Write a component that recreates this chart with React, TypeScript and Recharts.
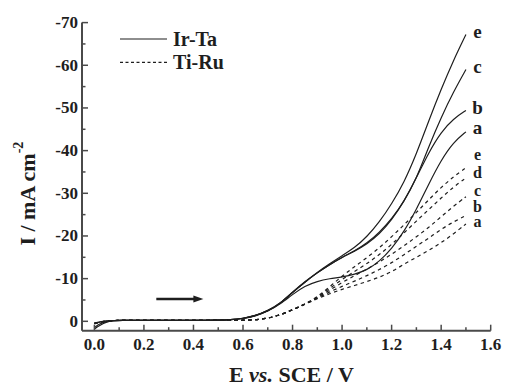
import React from 'react';
import { LineChart, Line, XAxis, YAxis, Legend, ReferenceDot, ReferenceLine } from 'recharts';

// Potential E vs. SCE / V
const potential = [0, 0.02, 0.05, 0.08, 0.1, 0.2, 0.3, 0.4, 0.5, 0.55, 0.6, 0.65, 0.7, 0.75, 0.8, 0.85, 0.9, 0.95, 1.0, 1.05, 1.1, 1.15, 1.2, 1.25, 1.3, 1.35, 1.4, 1.45, 1.5];

// Ir-Ta (solid) current densities, mA cm-2
const irTaA = [1.8, 1.0, 0.1, -0.2, -0.2, -0.2, -0.2, -0.2, -0.25, -0.35, -0.6, -1.2, -2.3, -4.0, -6.3, -8.3, -9.4, -10.0, -10.4, -11.0, -12.0, -14.0, -17.0, -21.0, -26.2, -32.2, -37.8, -42.0, -44.4];
const irTaB = [1.5, 0.6, 0.0, -0.2, -0.2, -0.2, -0.2, -0.2, -0.25, -0.4, -0.65, -1.3, -2.4, -4.1, -6.8, -9.2, -11.4, -13.3, -15.0, -16.4, -18.1, -20.4, -23.7, -28.1, -33.6, -39.6, -44.4, -47.5, -49.4];
const irTaC = [0.4, 0.1, -0.1, -0.2, -0.2, -0.2, -0.2, -0.2, -0.25, -0.4, -0.65, -1.3, -2.4, -4.1, -6.8, -9.2, -11.4, -13.3, -15.0, -16.5, -18.3, -20.8, -24.0, -28.0, -33.4, -41.0, -47.8, -53.8, -59.0];
const irTaE = [0.6, 0.2, -0.1, -0.2, -0.2, -0.2, -0.2, -0.2, -0.25, -0.4, -0.65, -1.3, -2.5, -4.2, -6.9, -9.3, -11.5, -13.5, -15.4, -17.2, -19.8, -23.2, -27.5, -32.5, -39.2, -47.0, -54.4, -61.2, -67.2];

// Ti-Ru (dashed) current densities, mA cm-2
const tiRuA = [0.5, 0.2, -0.1, -0.2, -0.2, -0.2, -0.2, -0.2, -0.2, -0.2, -0.25, -0.35, -0.7, -1.5, -2.7, -4.0, -5.3, -6.5, -7.5, -8.4, -9.3, -10.3, -11.6, -13.4, -15.0, -16.6, -18.4, -20.5, -22.8];
const tiRuB = [0.5, 0.2, -0.1, -0.2, -0.2, -0.2, -0.2, -0.2, -0.2, -0.2, -0.25, -0.35, -0.7, -1.5, -2.7, -4.0, -5.4, -6.9, -8.2, -9.4, -10.7, -12.1, -13.7, -15.6, -17.6, -19.5, -21.6, -23.3, -24.8];
const tiRuC = [0.5, 0.2, -0.1, -0.2, -0.2, -0.2, -0.2, -0.2, -0.2, -0.2, -0.25, -0.35, -0.7, -1.5, -2.7, -4.0, -5.5, -7.3, -9.1, -10.7, -12.2, -13.9, -15.7, -17.7, -19.8, -22.0, -24.5, -27.0, -29.2];
const tiRuD = [0.5, 0.2, -0.1, -0.2, -0.2, -0.2, -0.2, -0.2, -0.2, -0.2, -0.25, -0.35, -0.7, -1.5, -2.7, -4.0, -5.6, -7.7, -9.8, -11.7, -13.5, -15.6, -18.0, -20.7, -23.5, -26.2, -28.9, -31.5, -33.6];
const tiRuE = [0.5, 0.2, -0.1, -0.2, -0.2, -0.2, -0.2, -0.2, -0.2, -0.2, -0.25, -0.35, -0.7, -1.5, -2.7, -4.0, -5.7, -8.1, -10.6, -12.8, -14.9, -17.2, -19.8, -22.6, -25.5, -28.5, -31.4, -33.9, -36.0];

const xMajorTicks = [0, 0.2, 0.4, 0.6, 0.8, 1.0, 1.2, 1.4, 1.6];
const xMinorTicks = [0.1, 0.3, 0.5, 0.7, 0.9, 1.1, 1.3, 1.5];
const yMajorTicks = [-70, -60, -50, -40, -30, -20, -10, 0];
const yMinorTicks = [-65, -55, -45, -35, -25, -15, -5];

const legendItems = ['Ir-Ta', 'Ti-Ru'];

const solidLabels = ['e', 'c', 'b', 'a'];
const solidLabelValues = [-66.3, -58.1, -48.6, -43.9];
const dashedLabels = ['e', 'd', 'c', 'b', 'a'];
const dashedLabelValues = [-37.8, -33.6, -29.4, -25.7, -22.0];
const labelPotential = 1.547;

const arrowStart = 0.25;
const arrowEnd = 0.44;
const arrowLevel = -5.2;

const data = potential.map((E, i) => ({
  E,
  irTaA: irTaA[i], irTaB: irTaB[i], irTaC: irTaC[i], irTaE: irTaE[i],
  tiRuA: tiRuA[i], tiRuB: tiRuB[i], tiRuC: tiRuC[i], tiRuD: tiRuD[i], tiRuE: tiRuE[i],
}));

const FONT = '"Liberation Serif", "Times New Roman", serif';
const INK = '#1e1e1e';
const AXIS = '#4a4a4a';

const isIn = (arr: number[], v: number) => arr.some((a) => Math.abs(a - v) < 1e-6);

const XTick = (props: any) => {
  const { x, y, payload } = props;
  const major = isIn(xMajorTicks, payload.value);
  return (
    <g>
      <line x1={x} x2={x} y1={y} y2={y - (major ? 6 : 3.5)} stroke={AXIS} strokeWidth={1.5} />
      {major && (
        <text x={x} y={y + 19} textAnchor="middle" fontFamily={FONT} fontWeight="bold" fontSize={17} fill={INK}>
          {payload.value.toFixed(1)}
        </text>
      )}
    </g>
  );
};

const YTick = (props: any) => {
  const { x, y, payload } = props;
  const major = isIn(yMajorTicks, payload.value);
  return (
    <g>
      <line x1={x} x2={x + (major ? 6 : 3.5)} y1={y} y2={y} stroke={AXIS} strokeWidth={1.5} />
      {major && (
        <text x={x - 4} y={y + 5.5} textAnchor="end" fontFamily={FONT} fontWeight="bold" fontSize={17} fill={INK}>
          {String(payload.value)}
        </text>
      )}
    </g>
  );
};

const XLabel = (props: any) => {
  const vb = props.viewBox;
  return (
    <text x={vb.x + vb.width / 2 + 5} y={vb.y + 51} textAnchor="middle" fontFamily={FONT} fontWeight="bold" fontSize={22} fill={INK}>
      <tspan>E </tspan>
      <tspan fontStyle="italic">vs.</tspan>
      <tspan> SCE / V</tspan>
    </text>
  );
};

const YLabel = (props: any) => {
  const vb = props.viewBox;
  const cx = 27;
  const cy = vb.y + vb.height / 2 + 17;
  return (
    <text x={cx} y={cy} transform={`rotate(-90, ${cx}, ${cy})`} textAnchor="middle" dominantBaseline="central" fontFamily={FONT} fontWeight="bold" fontSize={22} fill={INK}>
      <tspan>I / mA cm</tspan>
      <tspan dy={-9} fontSize={14}>-2</tspan>
    </text>
  );
};

const LegendContent = () => (
  <svg width={140} height={50} style={{ display: 'block' }}>
    {legendItems.map((name, i) => (
      <g key={name}>
        <line x1={2} x2={49} y1={11 + i * 23.3} y2={11 + i * 23.3} stroke={INK} strokeWidth={1.2} strokeDasharray={i === 0 ? undefined : '3 2.5'} />
        <text x={55} y={18 + i * 23.3} fontFamily={FONT} fontWeight="bold" fontSize={20} fill={INK}>{name}</text>
      </g>
    ))}
  </svg>
);

const Arrow = (props: any) => {
  const { x1, y1, x2, y2 } = props;
  return (
    <g>
      <line x1={x1} y1={y1} x2={x2 - 8} y2={y2} stroke={INK} strokeWidth={2.5} />
      <polygon points={`${x2},${y2} ${x2 - 10},${y2 - 3.5} ${x2 - 10},${y2 + 3.5}`} fill={INK} />
    </g>
  );
};

const makeLabel = (text: string, size: number) => (p: any) => (
  <text x={p.cx} y={p.cy} textAnchor="middle" fontFamily={FONT} fontWeight="bold" fontSize={size} fill={INK}>{text}</text>
);

const solidKeys = ['irTaA', 'irTaB', 'irTaC', 'irTaE'];
const dashedKeys = ['tiRuA', 'tiRuB', 'tiRuC', 'tiRuD', 'tiRuE'];

export default function App() {
  return (
    <div style={{ position: 'absolute', left: 0, top: 0, width: 506, height: 389, background: '#fff' }}>
      <LineChart width={506} height={389} data={data} margin={{ top: 22.6, right: 15.3, bottom: 0, left: 0 }}>
        <XAxis
          dataKey="E"
          type="number"
          domain={[-0.05, 1.6]}
          allowDataOverflow
          ticks={[...xMajorTicks, ...xMinorTicks].sort((a, b) => a - b)}
          interval={0}
          height={58.3}
          tickLine={false}
          tickSize={0}
          tickMargin={0}
          tick={<XTick />}
          axisLine={{ stroke: AXIS, strokeWidth: 2 }}
          label={{ content: <XLabel /> } as any}
        />
        <YAxis
          type="number"
          reversed
          domain={[-70, 2.2]}
          allowDataOverflow
          ticks={[...yMajorTicks, ...yMinorTicks].sort((a, b) => a - b)}
          interval={0}
          width={82}
          tickLine={false}
          tickSize={0}
          tickMargin={0}
          tick={<YTick />}
          axisLine={{ stroke: AXIS, strokeWidth: 2 }}
          label={{ content: <YLabel /> } as any}
        />
        <Legend
          layout="horizontal"
          verticalAlign="middle"
          align="center"
          content={<LegendContent />}
          wrapperStyle={{ left: 118, top: 28, width: 140, height: 50 }}
        />
        {solidKeys.map((k) => (
          <Line key={k} dataKey={k} type="basis" stroke={INK} strokeWidth={1.2} dot={false} isAnimationActive={false} legendType="none" />
        ))}
        {dashedKeys.map((k) => (
          <Line key={k} dataKey={k} type="basis" stroke={INK} strokeWidth={1.2} strokeDasharray="3.5 3.5" dot={false} isAnimationActive={false} legendType="none" />
        ))}
        <ReferenceLine segment={[{ x: arrowStart, y: arrowLevel }, { x: arrowEnd, y: arrowLevel }]} shape={<Arrow />} />
        {solidLabels.map((t, i) => (
          <ReferenceDot key={'s' + i} x={labelPotential} y={solidLabelValues[i]} r={0} shape={makeLabel(t, 19)} />
        ))}
        {dashedLabels.map((t, i) => (
          <ReferenceDot key={'d' + i} x={labelPotential} y={dashedLabelValues[i]} r={0} shape={makeLabel(t, 16)} />
        ))}
      </LineChart>
    </div>
  );
}
